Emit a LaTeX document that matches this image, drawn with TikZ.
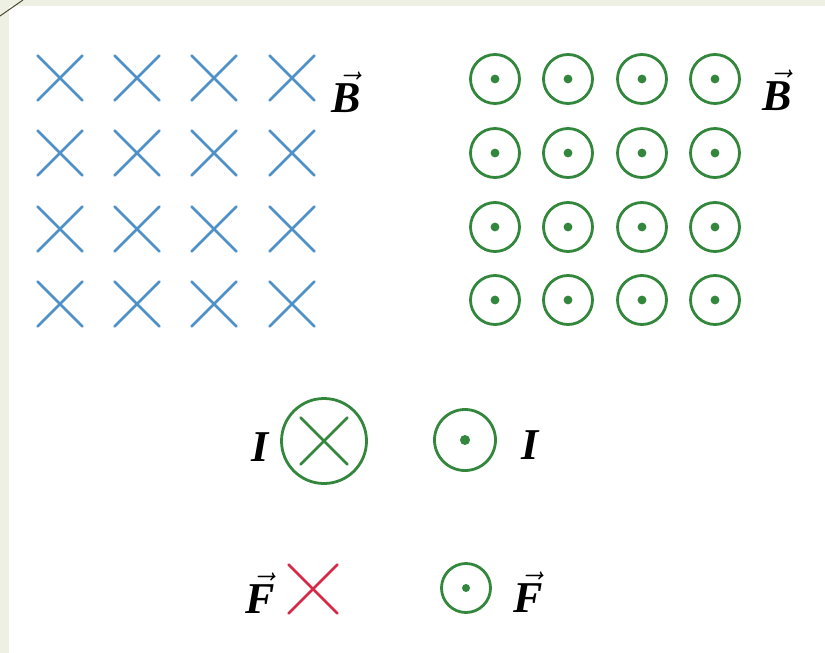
\documentclass[tikz,border=0pt]{standalone}
\usepackage{amsmath}
\usepackage{fontspec}
\setmainfont{Liberation Serif}
\definecolor{fieldblue}{RGB}{78,144,200}
\definecolor{fieldgreen}{RGB}{50,135,60}
\definecolor{forcered}{RGB}{212,42,72}
\definecolor{pagetint}{RGB}{238,240,228}
\newcommand{\vlbl}[1]{$\skew{3}\vec{\text{\bfseries\itshape #1}}$}

\begin{document}
\begin{tikzpicture}[x=0.5pt,y=-0.5pt,
  xbox/.style={rectangle,inner sep=0pt,minimum size=22pt},
  xline/.style={line width=1.3pt,line cap=round},
  ocirc/.style={circle,draw=fieldgreen,line width=1.4pt,inner sep=0pt,minimum size=24.5pt,
    path picture={\fill[fieldgreen] (path picture bounding box.center) circle (2.2pt);}},
  lbl/.style={inner sep=0pt,font=\fontsize{22}{26}\selectfont}]
  \useasboundingbox (0,0) rectangle (825,653);
  \fill[pagetint] (0,0) rectangle (825,6);
  \fill[pagetint] (0,0) rectangle (9,653);
  \draw[black!60!olive,line width=0.5pt] (0,16) -- (23,0);
  % field into the page
  \foreach \r/\y in {1/78,2/153,3/229,4/304}
    \foreach \c/\x in {1/60,2/137,3/214,4/292} {
      \node[xbox] (b\r\c) at (\x,\y) {};
      \draw[xline,fieldblue] (b\r\c.north west) -- (b\r\c.south east) (b\r\c.north east) -- (b\r\c.south west);
    }
  \node[lbl,anchor=base west] (Bin) at (331,112) {\vlbl{B}};
  % field out of the page
  \foreach \r/\y in {1/79,2/153,3/227,4/300}
    \foreach \c/\x in {1/495,2/568,3/642,4/715}
      \node[ocirc] (g\r\c) at (\x,\y) {};
  \node[lbl,anchor=base west] (Bout) at (762,110) {\vlbl{B}};
  % currents
  \node[circle,draw=fieldgreen,line width=1.4pt,minimum size=42.5pt] (Iin) at (324,441) {};
  \node[xbox,minimum size=23pt] (Iinx) at (324,441) {};
  \draw[xline,fieldgreen] (Iinx.north west) -- (Iinx.south east) (Iinx.north east) -- (Iinx.south west);
  \node[lbl,anchor=base] (Il) at (261,461) {\textbf{\textit{I}}};
  \node[ocirc,minimum size=30.5pt,path picture={\fill[fieldgreen] (path picture bounding box.center) circle (2.5pt);}] (Iout) at (465,440) {};
  \node[lbl,anchor=base] (Ir) at (531,459) {\textbf{\textit{I}}};
  % forces
  \node[xbox,minimum size=24pt] (Fin) at (313,589) {};
  \draw[xline,forcered] (Fin.north west) -- (Fin.south east) (Fin.north east) -- (Fin.south west);
  \node[lbl,anchor=base] (Fl) at (260,613) {\vlbl{F}};
  \node[ocirc,path picture={\fill[fieldgreen] (path picture bounding box.center) circle (2pt);}] (Fout) at (466,588) {};
  \node[lbl,anchor=base] (Fr) at (528,612) {\vlbl{F}};
\end{tikzpicture}
\end{document}
